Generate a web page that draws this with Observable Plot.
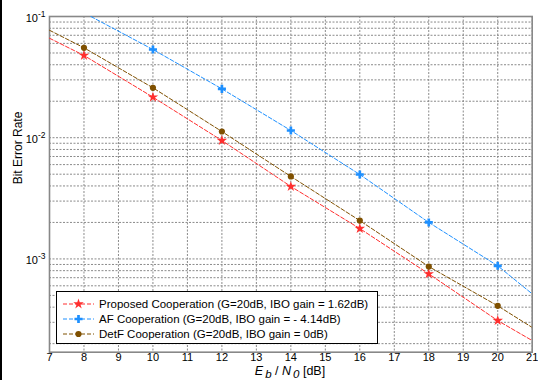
<!DOCTYPE html>
<html><head><meta charset="utf-8">
<script src="https://cdn.jsdelivr.net/npm/d3@7"></script>
<script src="https://cdn.jsdelivr.net/npm/@observablehq/plot@0.6"></script>
<style>
body{margin:0;background:#fff;}
#wrap{position:relative;width:538px;height:380px;font-family:"Liberation Sans",Arial,Helvetica,sans-serif;overflow:hidden;background:#fff}
#edge{position:absolute;left:0;top:0;width:2px;height:380px;background:#000}
#xlabel{position:absolute;top:364.5px;left:290px;transform:translateX(-50%);font-size:12.5px;line-height:13px;white-space:nowrap;color:#000}
#xlabel i{font-style:italic}
#xlabel sub{font-size:11.5px;font-style:italic;vertical-align:-3px;line-height:0;margin-left:2px}
#legend{position:absolute;left:56px;top:291px;width:322px;height:53px;box-sizing:border-box;border:1px solid #000;background:#fff;font-size:11.5px;padding-top:4px}
.row{height:15px;display:flex;align-items:center;white-space:nowrap}
.row svg{margin-left:5px;margin-right:4px}
</style></head><body><div id="wrap"><div id="edge"></div></div>
<script>
// ---- data ----
const xTicks = [7,8,9,10,11,12,13,14,15,16,17,18,19,20,21];
const markerEbN0 = [8,10,12,14,16,18,20];
const proposedBER = [0.0477,0.0216,0.00948,0.00396,0.00178,0.000753,0.00031];
const detfBER = [0.0552,0.0258,0.01125,0.00479,0.00207,0.000865,0.00041];
const afEbN0 = [10,12,14,16,18,20];
const afBER = [0.0534,0.0253,0.01147,0.00497,0.0020,0.000877];
// where the dashed lines begin and end (beyond the markers)
const proposedEnds = [[7,0.0662],[21,0.000212]];
const detfEnds = [[7,0.077],[21,0.000272]];
const afEnds = [[8.2,0.1],[21,0.000515]];
const yMajor = [1e-3,1e-2,1e-1];
const yGrid = [2e-4,3e-4,4e-4,5e-4,6e-4,7e-4,8e-4,9e-4,1e-3,2e-3,3e-3,4e-3,5e-3,6e-3,7e-3,8e-3,9e-3,1e-2,2e-2,3e-2,4e-2,5e-2,6e-2,7e-2,8e-2,9e-2,1e-1];
const seriesNames = ["Proposed Cooperation (G=20dB, IBO gain = 1.62dB)","AF Cooperation (G=20dB, IBO gain = - 4.14dB)","DetF Cooperation (G=20dB, IBO gain = 0dB)"];
const seriesColors = ["#ff2e2e","#1e90ff","#7f5000"];
const seriesSymbols = ["star","cross","circle"];

const pts = (xs, ys) => xs.map((x,i)=>({x, y: ys[i]}));
const linePts = (xs, ys, ends) => [{x:ends[0][0],y:ends[0][1]}, ...pts(xs,ys), {x:ends[1][0],y:ends[1][1]}];

const series = [
  {line: linePts(markerEbN0, proposedBER, proposedEnds), dots: pts(markerEbN0, proposedBER)},
  {line: linePts(afEbN0, afBER, afEnds), dots: pts(afEbN0, afBER)},
  {line: linePts(markerEbN0, detfBER, detfEnds), dots: pts(markerEbN0, detfBER)}
];
const rs = [3.3, 3.4, 3.1];

const gridStyle = {stroke:"#8a8a8a", strokeOpacity:1, strokeWidth:1, strokeDasharray:"2,1.5"};
const marks = [
  Plot.ruleX(xTicks, {x: d=>d, ...gridStyle}),
  Plot.ruleY(yGrid, {y: d=>d, ...gridStyle}),
  Plot.frame({stroke:"#888", strokeWidth:1.6}),
];
series.forEach((s,i)=>{
  marks.push(Plot.line(s.line, {x:"x", y:"y", stroke:seriesColors[i], strokeWidth:1, strokeDasharray:"4,2", clip:true}));
});
series.forEach((s,i)=>{
  marks.push(Plot.dot(s.dots, {x:"x", y:"y", symbol:()=>seriesSymbols[i], fill:seriesColors[i], stroke:"none", r:rs[i]}));
});
marks.push(Plot.text(["Bit Error Rate"], {frameAnchor:"left", dx:-31, rotate:-90, fontSize:12, fill:"#000"}));

const chart = Plot.plot({
  width:538, height:380,
  marginLeft:49, marginRight:6.3, marginTop:16, marginBottom:28.3,
  style:{fontFamily:'"Liberation Sans",Arial,Helvetica,sans-serif', fontSize:"11px", background:"#fff", color:"#000"},
  symbol:{type:"identity"},
  x:{domain:[7,21], ticks:xTicks, tickSize:0, tickPadding:1, label:null, tickFormat:d3.format("d")},
  y:{type:"log", domain:[1.7e-4,0.1], ticks:yMajor, tickSize:0, tickPadding:4, label:null,
     tickFormat:d=>"10^"+Math.round(Math.log10(d))},
  marks
});
const wrap = document.getElementById("wrap");
wrap.insertBefore(chart, wrap.firstChild);

// superscript exponents on y tick labels
chart.querySelectorAll("text").forEach(t=>{
  const m = /^10\^(-?\d+)$/.exec(t.textContent);
  if(!m) return;
  t.textContent = "";
  const ns = "http://www.w3.org/2000/svg";
  const a = document.createElementNS(ns,"tspan"); a.setAttribute("dy","2"); a.textContent="10";
  const b = document.createElementNS(ns,"tspan"); b.setAttribute("dy","-5"); b.setAttribute("font-size","8.5"); b.textContent=m[1];
  t.appendChild(a); t.appendChild(b);
});

// x axis title
const xl = document.createElement("div");
xl.id="xlabel";
xl.innerHTML = "<i>E</i><sub>b</sub> / <i>N</i><sub>0</sub> [dB]";
wrap.appendChild(xl);

// legend
const lg = document.createElement("div");
lg.id="legend";
seriesNames.forEach((name,i)=>{
  const row = document.createElement("div"); row.className="row";
  const sym = {star:d3.symbolStar, cross:d3.symbolCross, circle:d3.symbolCircle}[seriesSymbols[i]];
  const path = d3.symbol(sym, Math.PI*rs[i]*rs[i])();
  row.innerHTML = `<svg width="33" height="14"><line x1="1" x2="32" y1="7" y2="7" stroke="${seriesColors[i]}" stroke-dasharray="4,2"/><path transform="translate(16.5,7)" d="${path}" fill="${seriesColors[i]}"/></svg><span>${name}</span>`;
  lg.appendChild(row);
});
wrap.appendChild(lg);
</script></body></html>
